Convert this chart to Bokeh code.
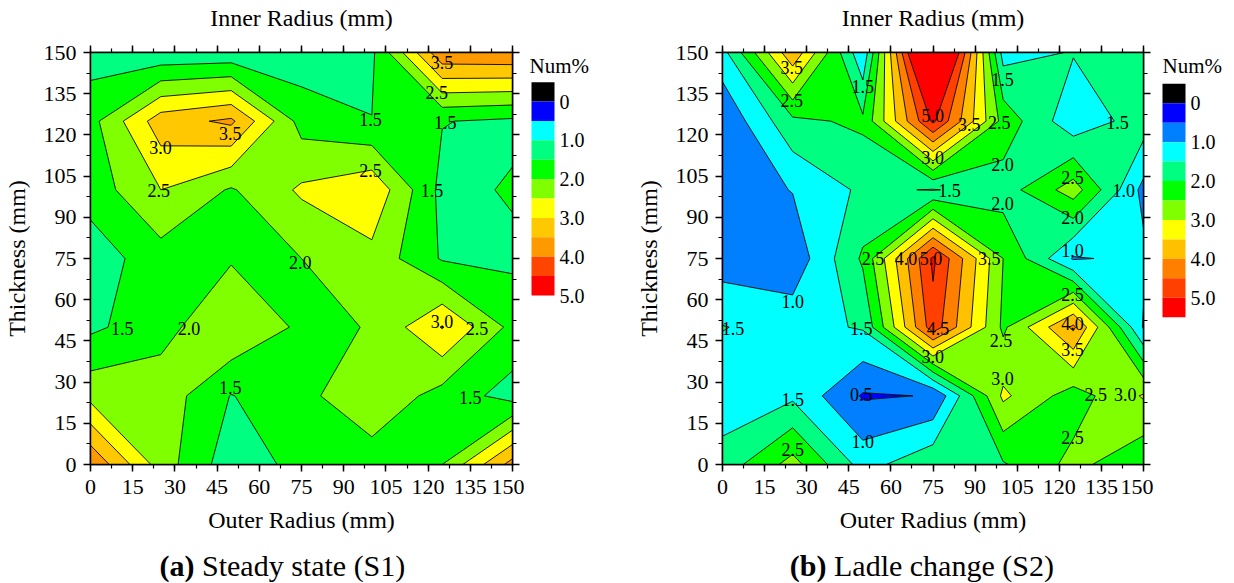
import numpy as np
from bokeh.plotting import figure
from bokeh.models import (Range1d, LinearAxis, SingleIntervalTicker,
                          CustomJSTickFormatter, ColumnDataSource)
from bokeh.layouts import row, column
from bokeh.core.properties import value
from bokeh.embed import file_html
from bokeh.resources import INLINE

# ---------------- data ----------------
grid = [0, 25, 50, 75, 100, 125, 150]

# (a) Steady state (S1): rows are Thickness = 0..150, columns Outer Radius = 0..150
s1_t000 = [3.95, 2.26, 1.20, 1.66, 1.73, 2.00, 3.70]
s1_t025 = [2.34, 2.30, 1.48, 1.85, 2.40, 1.80, 1.30]
s1_t050 = [1.40, 1.80, 2.48, 1.90, 2.02, 3.03, 1.85]
s1_t075 = [1.22, 1.79, 1.95, 2.00, 2.35, 1.45, 1.40]
s1_t100 = [1.72, 2.50, 1.95, 2.58, 2.90, 1.35, 1.55]
s1_t125 = [1.82, 3.28, 3.60, 1.80, 1.51, 1.52, 1.40]
s1_t150 = [1.28, 1.10, 1.13, 1.20, 1.40, 3.90, 3.95]

# (b) Ladle change (S2)
s2_t000 = [1.71, 2.69, 1.30, 1.90, 1.95, 2.65, 2.10]
s2_t025 = [1.20, 1.40, 0.45, 0.52, 3.10, 2.25, 3.05]
s2_t050 = [1.52, 1.31, 1.55, 4.80, 2.40, 4.10, 0.95]
s2_t075 = [0.73, 0.65, 2.08, 5.10, 2.50, 0.95, 1.12]
s2_t100 = [0.70, 1.02, 1.60, 1.47, 1.75, 2.75, 0.85]
s2_t125 = [0.57, 1.88, 2.10, 5.10, 2.32, 1.15, 1.75]
s2_t150 = [1.32, 3.90, 1.10, 7.20, 1.30, 1.53, 1.60]

levels = [0.0, 0.5, 1.0, 1.5, 2.0, 2.5, 3.0, 3.5, 4.0, 4.5, 5.0]
s2_top_level = 10.0

# band colours: first is the "< 0" band
s1_colors = ["#000000", "#0000FF", "#00FFFF", "#00FF80", "#00FF00", "#80FF00",
             "#FFFF00", "#FFC800", "#FF9900", "#FF4500", "#FF0000"]
s2_colors = ["#000000", "#0000FF", "#0080FF", "#00FFFF", "#00FF80", "#00FF00",
             "#80FF00", "#FFFF00", "#FFC000", "#FF8000", "#FF4000", "#FF0000"]

cbar_ticks = [0.0, 1.0, 2.0, 3.0, 4.0, 5.0]
cbar_tick_labels = ["0", "1.0", "2.0", "3.0", "4.0", "5.0"]

# contour labels
s1_label_x = [124.9, 123.1, 126.1, 99.5, 49.7, 24.9, 24.3, 99.5, 121.4, 74.6, 11.3, 35.0, 124.9, 137.4, 49.7, 135.0]
s1_label_y = [146.4, 135.4, 124.5, 125.7, 120.6, 115.4, 99.6, 106.9, 99.6, 73.5, 49.5, 49.5, 51.9, 49.5, 28.0, 24.3]
s1_label_t = ["3.5", "2.5", "1.5", "1.5", "3.5", "3.0", "2.5", "2.5", "1.5", "2.0", "1.5", "2.0", "3.0", "2.5", "1.5", "1.5"]

s2_label_x = [24.7, 24.7, 50.0, 99.8, 74.9, 87.9, 98.6, 140.7, 74.9, 99.8, 80.9, 124.7, 143.0, 99.8, 124.7,
              53.6, 65.4, 74.3, 95.0, 124.7, 25.0, 124.7, 3.7, 49.4, 76.8, 124.7, 99.2, 124.7, 74.9, 99.8,
              49.4, 25.0, 133.0, 143.5, 50.0, 124.7, 25.0]
s2_label_y = [144.5, 132.4, 137.8, 140.3, 127.0, 123.9, 124.5, 124.5, 111.8, 109.4, 99.7, 104.6, 99.7, 94.9, 90.1,
              75.0, 75.0, 75.0, 75.0, 78.0, 59.2, 61.9, 49.6, 49.6, 49.6, 51.4, 45.3, 41.7, 39.3, 31.4,
              25.4, 23.6, 25.4, 25.4, 8.5, 9.7, 5.4]
s2_label_t = ["3.5", "2.5", "1.5", "1.5", "5.0", "3.5", "2.5", "1.5", "3.0", "2.0", "1.5", "2.5", "1.0", "2.0", "2.0",
              "2.5", "4.0", "5.0", "3.5", "1.0", "1.0", "2.5", "1.5", "1.5", "4.5", "4.0", "2.5", "3.5", "3.0", "3.0",
              "0.5", "1.5", "2.5", "3.0", "1.0", "2.5", "2.5"]

FONT = "Liberation Serif"
TOP, FH, BOTTOM = 52, 412, 80
CAP_H = 583 - (TOP + FH + BOTTOM)


def style_axis(ax, labels=True):
    ax.axis_line_width = 1.5
    ax.axis_line_color = "black"
    ax.major_tick_out = 7
    ax.major_tick_in = 0
    ax.minor_tick_out = 4
    ax.minor_tick_in = 0
    ax.major_tick_line_width = 1.5
    ax.minor_tick_line_width = 1.2
    ax.major_tick_line_color = "black"
    ax.minor_tick_line_color = "black"
    ax.major_label_text_font = FONT
    ax.major_label_text_font_size = "22px"
    ax.major_label_text_color = "black"
    ax.axis_label_text_font = FONT
    ax.axis_label_text_font_style = "normal"
    ax.axis_label_text_font_size = "24px"
    ax.axis_label_text_color = "black"
    if not labels:
        ax.formatter = CustomJSTickFormatter(code="return ''")
        ax.major_label_text_font_size = "0px"
        ax.major_label_standoff = 0


def panel(rows, levels_fill, band_colors, lx, ly, lt, left_border, fw, right_border):
    z = np.array(rows)
    p = figure(frame_width=fw, frame_height=FH,
               x_range=Range1d(0, 150), y_range=Range1d(0, 150),
               min_border_left=left_border, min_border_right=right_border,
               min_border_top=TOP, min_border_bottom=BOTTOM,
               output_backend="svg", toolbar_location=None)
    p.title = None
    p.grid.visible = False
    p.outline_line_color = "black"
    p.outline_line_width = 1.5
    p.background_fill_color = "white"
    p.border_fill_color = "white"

    p.contour(x=grid, y=grid, z=z, levels=levels_fill, fill_color=band_colors[1:],
              line_color="black", line_width=0.9)

    src = ColumnDataSource(dict(x=lx, y=ly, t=lt))
    p.text(x="x", y="y", text="t", source=src, text_font=value(FONT), text_font_size="18px",
           text_align="center", text_baseline="middle", text_color="black")

    tick = SingleIntervalTicker(interval=15, num_minor_ticks=2)
    p.xaxis.ticker = tick
    p.yaxis.ticker = tick
    p.xaxis.axis_label = "Outer Radius (mm)"
    p.yaxis.axis_label = "Thickness (mm)"
    for ax in p.xaxis:
        style_axis(ax)
        ax.major_label_standoff = 8
        ax.axis_label_standoff = 10
    for ax in p.yaxis:
        style_axis(ax)
        ax.major_label_standoff = 7
        ax.axis_label_standoff = 11

    top = LinearAxis(ticker=tick, axis_label="Inner Radius (mm)")
    style_axis(top, labels=False)
    top.axis_label_standoff = 15
    p.add_layout(top, "above")
    right = LinearAxis(ticker=tick)
    style_axis(right, labels=False)
    p.add_layout(right, "right")
    return p


def cbar(band_colors, width, bar_left, bar_top_px, bar_h_px, title_x):
    # band edges: one "< 0" band on top, then one band per 0.5 step
    n = len(band_colors)
    edges = [-0.5 + 0.5 * i for i in range(n + 1)]
    per_px = (edges[-1] - edges[0]) / bar_h_px
    y_top = edges[0] - (bar_top_px - TOP) * per_px
    y_bot = edges[-1] + (TOP + FH - (bar_top_px + bar_h_px)) * per_px
    c = figure(frame_width=width, frame_height=FH, x_range=Range1d(0, width),
               y_range=Range1d(y_bot, y_top),
               min_border_left=0, min_border_right=0,
               min_border_top=TOP, min_border_bottom=BOTTOM,
               x_axis_location=None, y_axis_location=None,
               output_backend="svg", toolbar_location=None)
    c.title = None
    c.grid.visible = False
    c.outline_line_color = None
    c.background_fill_color = "white"
    c.border_fill_color = "white"
    c.quad(left=bar_left, right=bar_left + 23, bottom=edges[:-1], top=edges[1:],
           fill_color=band_colors, line_color=None)
    c.text(x=[bar_left + 28] * len(cbar_ticks), y=cbar_ticks, text=cbar_tick_labels,
           text_font=value(FONT), text_font_size="20px", text_align="left",
           text_baseline="middle", text_color="black")
    c.text(x=[title_x], y=[edges[0] - (bar_top_px - 65) * per_px], text=["Num%"],
           text_font=value(FONT), text_font_size="21px", text_align="left",
           text_baseline="middle", text_color="black")
    return c


def caption(width, bold, rest, split_x):
    c = figure(width=width, height=CAP_H, x_range=Range1d(0, width), y_range=Range1d(0, CAP_H),
               min_border=0, x_axis_location=None, y_axis_location=None,
               output_backend="svg", toolbar_location=None)
    c.title = None
    c.grid.visible = False
    c.outline_line_color = None
    c.background_fill_color = "white"
    c.border_fill_color = "white"
    cy = 583 - 565
    c.text(x=[split_x], y=[cy], text=[bold], text_font=value(FONT), text_font_size="30px",
           text_font_style="bold", text_align="right", text_baseline="middle", text_color="black")
    c.text(x=[split_x + 7.5], y=[cy], text=[rest], text_font=value(FONT), text_font_size="30px",
           text_align="left", text_baseline="middle", text_color="black")
    return c


s1_rows = [s1_t000, s1_t025, s1_t050, s1_t075, s1_t100, s1_t125, s1_t150]
s2_rows = [s2_t000, s2_t025, s2_t050, s2_t075, s2_t100, s2_t125, s2_t150]

pa = panel(s1_rows, levels, s1_colors, s1_label_x, s1_label_y, s1_label_t, 85, 422, 12)
ca = cbar(s1_colors, 98, 7, 81.7, 213.3, 5)

pb = panel(s2_rows, levels + [s2_top_level], s2_colors, s2_label_x, s2_label_y, s2_label_t, 100, 421, 10)
cb = cbar(s2_colors, 70, 9, 83.3, 233.4, 9)

cap_a = caption(85 + 422 + 12 + 98, "(a)", "Steady state (S1)", 194)
cap_b = caption(100 + 421 + 10 + 70, "(b)", "Ladle change (S2)", 209)

layout = column(row(pa, ca, pb, cb), row(cap_a, cap_b))
open("out.html", "w").write(file_html(layout, INLINE))
